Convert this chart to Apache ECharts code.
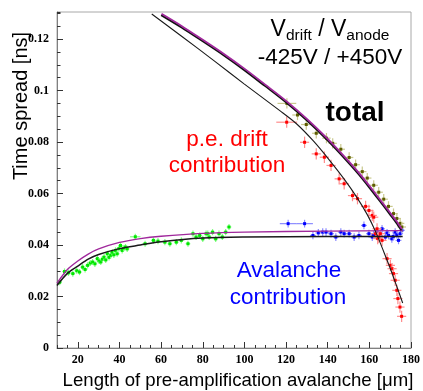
<!DOCTYPE html>
<html><head><meta charset="utf-8">
<script src="https://cdn.jsdelivr.net/npm/echarts@6/dist/echarts.min.js"></script>
<style>html,body{margin:0;padding:0;background:#fff}#c{width:423px;height:391px}</style>
</head><body><div id="c"></div>
<script>
// ---- axis ticks ----
const xMajorTicks = [20, 40, 60, 80, 100, 120, 140, 160, 180];
const yMajorTicks = [0, 0.02, 0.04, 0.06, 0.08, 0.1, 0.12];

// ---- fit curves [x, y] ----
const totalFit = [[60.2,0.1298],[70,0.1250],[80,0.1197],[90,0.1143],[100,0.1085],[110,0.1023],[120,0.0960],[130,0.0890],[140,0.0812],[150,0.0726],[155,0.0680],[160,0.0630],[165,0.0578],[170,0.0525],[173,0.0493],[175.6,0.0462]];
const driftFit = [[55.5,0.1297],[70,0.1210],[85.5,0.1115],[100,0.1025],[117,0.0922],[125,0.0871],[133,0.0805],[141,0.0728],[148,0.0655],[154,0.0585],[159,0.0518],[163,0.0452],[167,0.0372],[170,0.0310],[173,0.0243],[176,0.0175]];
const avalFitPurple = [[10,0.0252],[15,0.0305],[20,0.0338],[25,0.0365],[30,0.0385],[40,0.0410],[50,0.0425],[60,0.0434],[80,0.0445],[100,0.0450],[140,0.0454],[176,0.0456]];
const avalFitBlack = [[10,0.0243],[15,0.0290],[20,0.0318],[25,0.0345],[30,0.0363],[40,0.0386],[50,0.0400],[60,0.0413],[80,0.0427],[100,0.0431],[140,0.0433],[176,0.0433]];

// ---- measured points [x, y, (xerr), (yerr)] ----
const greenPts = [[11.3,0.0256],[13.6,0.0297],[15.5,0.0292],[17.6,0.0289],[19.5,0.0300],[20.8,0.0295],[22.3,0.0314],[23.5,0.0305],[24.7,0.0321],[26,0.0330],[27.1,0.0334],[28.2,0.0327],[29.4,0.0347],[30.2,0.0338],[31,0.0334],[31.8,0.0345],[32.6,0.0353],[33.4,0.0342],[34.2,0.0366],[35,0.0352],[35.8,0.0360],[36.5,0.0372],[37.3,0.0362],[38.1,0.0379],[38.9,0.0366],[39.7,0.0386],[40.5,0.0398],[41.3,0.0379],[42.1,0.0388],[42.9,0.0392],[43.7,0.0385],[47.6,0.0432,2.5],[52.3,0.0405],[56.3,0.0418],[58.5,0.0415],[61.8,0.0411],[64.2,0.0405],[67.3,0.0411],[69.7,0.0418],[72.9,0.0405],[75.3,0.0444],[76.8,0.0431],[78.5,0.0437],[80,0.0424],[81.6,0.0444],[82.4,0.0444],[83.1,0.0431],[84.7,0.0450],[86.2,0.0424],[87.8,0.0444],[89.4,0.0431],[91,0.0450],[92.6,0.0470]];
const bluePts = [[121,0.0483,4],[128.9,0.0483,4],[132.9,0.0437],[135.5,0.0447],[137.6,0.0450],[139.2,0.0450],[141.6,0.0444],[143.9,0.0431],[146.3,0.0450],[147.9,0.0444],[150.3,0.0444],[152.7,0.0431],[155,0.0437],[157.4,0.0476],[159.8,0.0444],[161.4,0.0431],[162,0.0440],[163.7,0.0450],[165,0.0437],[166.1,0.0463],[167.7,0.0431],[168.5,0.0447],[169.2,0.0437],[170.8,0.0424],[171.5,0.0433],[172.4,0.0450],[173.2,0.0440],[174,0.0418],[174.8,0.0444],[175.6,0.0457]];
const redPts = [[120.3,0.0877,5],[128.9,0.0799],[134.5,0.0754],[138.4,0.0741],[141.6,0.0709],[145.5,0.0657],[147.9,0.0638],[151.9,0.0592],[154.3,0.0580],[158.2,0.0550],[159.8,0.0534],[161.4,0.0515],[162.1,0.0508],[163,0.0444],[163.7,0.0463],[164,0.0425],[164.5,0.0431],[165.3,0.0444],[166.1,0.0418],[168.5,0.0347],[170.1,0.0321],[170.9,0.0308],[171.6,0.0289],[172.4,0.0263],[173.2,0.0224],[173.7,0.0192],[174.7,0.0159],[175.5,0.0123]];
const olivePts = [[120.4,0.0950,4.5],[125.5,0.0905,2.5],[129.7,0.0868,2.5],[134.5,0.0834],[139.4,0.0815],[142.4,0.0795],[146.3,0.0772],[150.3,0.0740],[153.4,0.0712],[156.6,0.0685],[159,0.0660],[162.1,0.0632],[164.5,0.0605],[166.9,0.0578],[169.2,0.0550],[171.6,0.0522],[173.2,0.0503],[174.8,0.0484],[175.6,0.0470]];

const chart = echarts.init(document.getElementById('c'), null, {renderer:'canvas'});

function errSeries(data, xe, ye, barColor, dotColor, dot, z) {
  return {
    type: 'custom', xAxisIndex: 0, yAxisIndex: 0, z: z, clip: true,
    data: data.map(d => [d[0], d[1], d[2] != null ? d[2] : xe, d[3] != null ? d[3] : ye]),
    renderItem: function (params, api) {
      const x = api.value(0), y = api.value(1), dx = api.value(2), dy = api.value(3);
      const c = api.coord([x, y]);
      const l = api.coord([x - dx, y]), r = api.coord([x + dx, y]);
      const t = api.coord([x, y + dy]), b = api.coord([x, y - dy]);
      return { type: 'group', children: [
        { type: 'line', shape: { x1: l[0], y1: c[1], x2: r[0], y2: c[1] }, style: { stroke: barColor, lineWidth: 1.2 } },
        { type: 'line', shape: { x1: c[0], y1: t[1], x2: c[0], y2: b[1] }, style: { stroke: barColor, lineWidth: 1.2 } },
        { type: 'rect', shape: { x: c[0] - dot / 2, y: c[1] - dot / 2, width: dot, height: dot }, style: { fill: dotColor } }
      ]};
    }
  };
}

function fitLine(data, color, width, z, extra) {
  return Object.assign({
    type: 'line', data: data, showSymbol: false, smooth: 0.3, z: z, silent: true,
    lineStyle: { color: color, width: width }, xAxisIndex: 0, yAxisIndex: 0
  }, extra || {});
}

const tickFont = { fontFamily: 'Liberation Serif', fontWeight: 'bold', fontSize: 12, color: '#000' };

const option = {
  animation: false,
  backgroundColor: '#fff',
  grid: { left: 57, right: 6, top: 12, bottom: 43, show: true, borderColor: '#a8a8a8', borderWidth: 1, backgroundColor: 'transparent' },
  xAxis: [
    { type: 'value', min: 10, max: 180, position: 'bottom',
      axisLine: { show: true, onZero: false, lineStyle: { color: '#808080', width: 1 } },
      axisTick: { show: true, inside: true, length: 6, customValues: xMajorTicks, lineStyle: { color: '#333' } },
      axisLabel: { show: true, customValues: xMajorTicks, margin: 6, ...tickFont },
      splitLine: { show: false } },
    { type: 'value', min: 10, max: 180, interval: 5, position: 'bottom',
      axisLine: { show: false }, axisLabel: { show: false }, splitLine: { show: false },
      axisTick: { show: true, inside: true, length: 3, lineStyle: { color: '#333' } } }
  ],
  yAxis: [
    { type: 'value', min: 0, max: 0.1305, position: 'left',
      axisLine: { show: true, onZero: false, lineStyle: { color: '#808080', width: 1 } },
      axisTick: { show: true, inside: true, length: 6, customValues: yMajorTicks, lineStyle: { color: '#333' } },
      axisLabel: { show: true, customValues: yMajorTicks, margin: 8, ...tickFont },
      splitLine: { show: false } },
    { type: 'value', min: 0, max: 0.1305, interval: 0.005, position: 'left',
      axisLine: { show: false }, axisLabel: { show: false }, splitLine: { show: false },
      axisTick: { show: true, inside: true, length: 3.5, lineStyle: { color: '#333' } } }
  ],
  series: [
    errSeries(greenPts, 1.1, 0.0012, '#80ff80', '#00e600', 3, 2),
    errSeries(bluePts, 1.4, 0.0015, '#8c8cff', '#0000ff', 3, 2),
    errSeries(olivePts, 2.0, 0.0020, '#c9c98e', '#5c5c00', 3, 2),
    errSeries(redPts, 2.2, 0.0022, '#ff8c8c', '#ff0000', 3, 3),
    fitLine(avalFitBlack, '#1a1a1a', 1.5, 5),
    fitLine(avalFitPurple, '#a0289c', 1.4, 5),
    fitLine(driftFit, '#1a1a1a', 1.1, 5),
    fitLine(totalFit, '#a0289c', 1.8, 6, { lineStyle: { color: '#a0289c', width: 1.8, shadowColor: '#111', shadowBlur: 0, shadowOffsetX: -0.4, shadowOffsetY: 1.3 } })
  ],
  graphic: [
    { type: 'text', x: 21, y: 106, rotation: Math.PI / 2, style: { text: 'Time spread [ns]', font: '20px "Liberation Sans"', fill: '#000', align: 'center', verticalAlign: 'middle' } },
    { type: 'text', x: 238, y: 381, style: { text: 'Length of pre-amplification avalanche [μm]', font: '18.6px "Liberation Sans"', fill: '#000', align: 'center', verticalAlign: 'middle' } },
    { type: 'text', x: 330, y: 30, style: { text: '{v|V}{s|drift}{v| / V}{s|anode}', align: 'center', verticalAlign: 'middle',
        rich: { v: { fontFamily: 'Liberation Sans', fontSize: 23, lineHeight: 28, verticalAlign: 'middle', fill: '#000' },
                s: { fontFamily: 'Liberation Sans', fontSize: 15.5, lineHeight: 15, verticalAlign: 'bottom', fill: '#000' } } } },
    { type: 'text', x: 330, y: 58, style: { text: '-425V / +450V', font: '22.5px "Liberation Sans"', fill: '#000', align: 'center', verticalAlign: 'middle' } },
    { type: 'text', x: 355, y: 113, style: { text: 'total', font: 'bold 28px "Liberation Sans"', fill: '#000', align: 'center', verticalAlign: 'middle' } },
    { type: 'text', x: 227, y: 140, style: { text: 'p.e. drift', font: '22.5px "Liberation Sans"', fill: '#ff0000', align: 'center', verticalAlign: 'middle' } },
    { type: 'text', x: 227, y: 166, style: { text: 'contribution', font: '22.5px "Liberation Sans"', fill: '#ff0000', align: 'center', verticalAlign: 'middle' } },
    { type: 'text', x: 289, y: 271, style: { text: 'Avalanche', font: '22.5px "Liberation Sans"', fill: '#0000ff', align: 'center', verticalAlign: 'middle' } },
    { type: 'text', x: 288, y: 298, style: { text: 'contribution', font: '22.5px "Liberation Sans"', fill: '#0000ff', align: 'center', verticalAlign: 'middle' } }
  ]
};
chart.setOption(option);
</script></body></html>
